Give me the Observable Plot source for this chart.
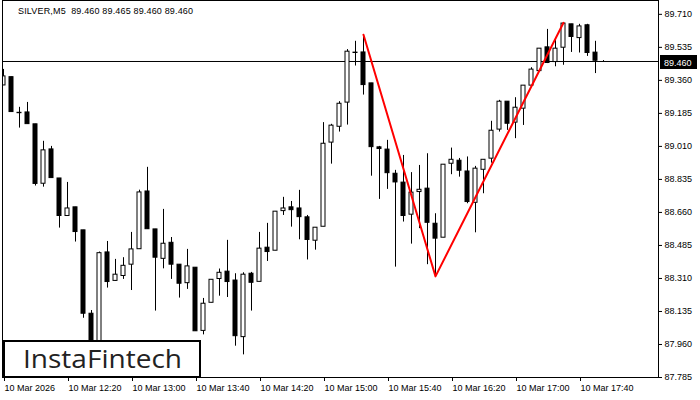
<!DOCTYPE html>
<html><head><meta charset="utf-8">
<script src="https://cdn.jsdelivr.net/npm/d3@7"></script>
<script src="https://cdn.jsdelivr.net/npm/@observablehq/plot@0.6"></script>
<style>body{margin:0;background:#fff;} svg{display:block}</style>
</head><body><div id="chart"></div>
<script>
const times = ["11:40","11:45","11:50","11:55","12:00","12:05","12:10","12:15","12:20","12:25",
"12:30","12:35","12:40","12:45","12:50","12:55","13:00","13:05","13:10","13:15",
"13:20","13:25","13:30","13:35","13:40","13:45","13:50","13:55","14:00","14:05",
"14:10","14:15","14:20","14:25","14:30","14:35","14:40","14:45","14:50","14:55",
"15:00","15:05","15:10","15:15","15:20","15:25","15:30","15:35","15:40","15:45",
"15:50","15:55","16:00","16:05","16:10","16:15","16:20","16:25","16:30","16:35",
"16:40","16:45","16:50","16:55","17:00","17:05","17:10","17:15","17:20","17:25",
"17:30","17:35","17:40","17:45","17:50","17:55"];
const open = [89.333,89.377,89.188,89.190,89.127,88.812,88.994,88.840,88.641,88.687,
88.565,88.123,87.903,88.448,88.297,88.323,88.383,88.465,88.771,88.570,
88.414,88.499,88.383,88.285,88.367,88.032,88.181,88.307,88.346,88.299,
87.999,88.335,88.292,88.473,88.457,88.667,88.687,88.681,88.634,88.510,
88.584,89.030,89.114,89.242,89.507,89.508,89.344,89.005,88.993,88.865,
88.818,88.648,88.768,88.786,88.600,88.526,88.918,88.934,88.877,88.711,
88.886,88.945,89.099,89.247,89.136,89.210,89.332,89.409,89.535,89.457,
89.533,89.657,89.584,89.652,89.507,89.460];
const high = [89.418,89.377,89.217,89.243,89.127,89.037,89.010,88.840,88.819,88.687,
88.565,88.140,88.450,88.506,88.411,88.420,88.554,88.778,88.899,88.570,
88.676,88.527,88.383,88.464,88.367,88.204,88.303,88.360,88.512,88.335,
88.340,88.342,88.554,88.602,88.665,88.740,88.718,88.777,88.644,88.579,
89.136,89.127,89.247,89.523,89.567,89.602,89.344,89.010,89.042,88.883,
88.962,88.871,88.909,88.971,88.653,88.913,89.001,88.946,88.954,88.904,
88.939,89.143,89.254,89.247,89.268,89.332,89.427,89.528,89.630,89.575,
89.662,89.657,89.657,89.657,89.567,89.465];
const low = [89.333,89.192,89.107,89.128,88.800,88.794,88.842,88.577,88.641,88.503,
88.099,87.850,87.877,88.259,88.294,88.305,88.246,88.465,88.571,88.137,
88.361,88.305,88.206,88.252,88.030,88.011,88.181,88.216,88.209,87.951,
87.905,88.137,88.292,88.400,88.457,88.644,88.582,88.515,88.408,88.460,
88.584,88.916,89.086,89.123,89.436,89.282,88.852,88.729,88.782,88.370,
88.609,88.492,88.574,88.383,88.326,88.526,88.860,88.847,88.706,88.552,
88.759,88.921,89.086,89.095,89.051,89.121,89.332,89.409,89.449,89.432,
89.440,89.508,89.505,89.487,89.396,89.460];
const close = [89.381,89.192,89.186,89.128,88.811,88.989,88.842,88.641,88.681,88.556,
88.123,87.903,88.444,88.291,88.330,88.377,88.464,88.766,88.571,88.420,
88.494,88.383,88.282,88.374,88.030,88.176,88.303,88.340,88.291,88.004,
88.330,88.287,88.468,88.450,88.664,88.681,88.672,88.635,88.514,88.579,
89.024,89.120,89.236,89.512,89.505,89.335,89.006,88.996,88.868,88.819,
88.641,88.765,88.780,88.605,88.521,88.913,88.939,88.881,88.715,88.892,
88.939,89.093,89.247,89.130,89.215,89.332,89.417,89.528,89.452,89.528,
89.661,89.590,89.646,89.505,89.464,89.460];
const yTicks = [87.785,87.960,88.135,88.310,88.485,88.660,88.835,89.010,89.185,89.360,89.535,89.710];
const xTickTimes = ["11:40","12:20","13:00","13:40","14:20","15:00","15:40","16:20","17:00","17:40"];
const firstTickLabel = "10 Mar 2026";
const dayLabel = "10 Mar";
const lastPrice = 89.460;
const title = "SILVER,M5  89.460 89.465 89.460 89.460";
const patternTimes = ["15:25","16:10","17:30"];
const patternPrices = [89.602, 88.321, 89.665];
const logoText = "InstaFintech";

const toDate = s => { const [h, m] = s.split(":").map(Number); return new Date(Date.UTC(2026, 2, 10, h, m)); };
const bars = times.map((s, i) => ({t: toDate(s), open: open[i], high: high[i], low: low[i], close: close[i]}));
const pattern = patternTimes.map((s, i) => ({t: toDate(s), p: patternPrices[i]}));
const FIVE = 5 * 60 * 1000;
const t0 = bars[0].t.getTime();
const half = 0.25 * FIVE;
const fmt = d3.utcFormat("%H:%M");
const FONT = "Liberation Sans, Arial, sans-serif";

const chart = Plot.plot({
  width: 700, height: 400,
  marginLeft: 2, marginRight: 42, marginTop: 0, marginBottom: 23,
  style: {fontFamily: FONT, fontSize: "9px", color: "black", background: "white"},
  x: {type: "utc", domain: [new Date(t0 - 0.125 * FIVE), new Date(t0 + 81.875 * FIVE)]},
  y: {domain: [87.785, 89.7833]},
  marks: [
    Plot.ruleY([lastPrice], {stroke: "black"}),
    Plot.ruleX(bars, {x: "t", y1: "low", y2: "high", stroke: "black", clip: true}),
    Plot.rect(bars, {
      x1: d => new Date(+d.t - half), x2: d => new Date(+d.t + half),
      y1: "open", y2: "close",
      fill: d => d.close >= d.open ? "white" : "black",
      stroke: "black", clip: true
    }),
    Plot.line(pattern, {x: "t", y: "p", stroke: "#ff0000", strokeWidth: 2, clip: true}),
    Plot.axisX(xTickTimes.map(toDate), {
      anchor: "bottom", tickSize: 4, tickPadding: 3, textAnchor: "start", dx: 1, label: null,
      tickFormat: d => +d === t0 ? firstTickLabel : dayLabel + " " + fmt(d)
    }),
    Plot.axisY(yTicks, {anchor: "right", tickSize: 3, tickPadding: 3, label: null, tickFormat: d => d.toFixed(3)}),
    Plot.frame({stroke: "black"})
  ]
});
document.getElementById("chart").appendChild(chart);

const svg = d3.select(chart);
const py = chart.scale("y").apply(lastPrice);
svg.append("text").attr("x", 18).attr("y", 14).attr("text-anchor", "start").attr("font-family", FONT).attr("font-size", 9).attr("fill", "black")
  .attr("xml:space", "preserve").style("white-space", "pre").attr("textLength", 175).attr("lengthAdjust", "spacing").text(title);
svg.append("rect").attr("x", 660).attr("y", Math.round(py) - 6).attr("width", 37).attr("height", 14).attr("fill", "black");
svg.append("text").attr("x", 664).attr("y", Math.round(py) + 4.5).attr("text-anchor", "start").attr("font-family", FONT).attr("font-size", 9).attr("fill", "white").text(lastPrice.toFixed(3));
svg.append("rect").attr("x", 4).attr("y", 341).attr("width", 196).attr("height", 36)
  .attr("fill", "white").attr("stroke", "black").attr("stroke-width", 2);
svg.append("text").attr("x", 23).attr("y", 368).attr("text-anchor", "start").attr("font-family", "Open Sans, sans-serif").attr("font-size", 26)
  .attr("font-weight", 500).attr("fill", "#222").attr("textLength", 159).attr("lengthAdjust", "spacingAndGlyphs").text(logoText);
</script></body></html>
